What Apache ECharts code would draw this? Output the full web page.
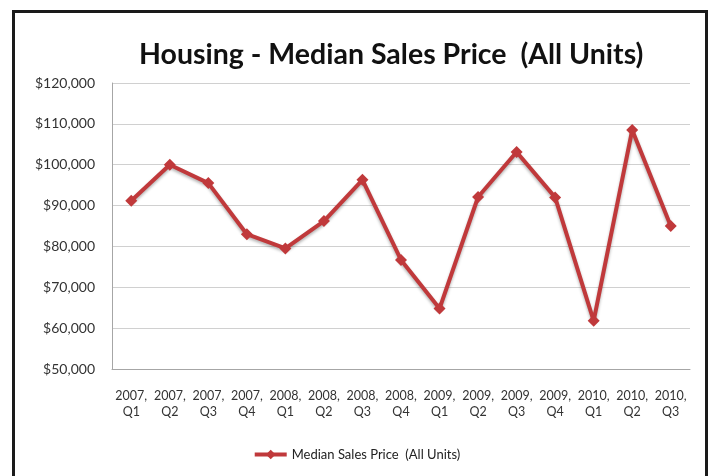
<!DOCTYPE html>
<html>
<head>
<meta charset="utf-8">
<script src="https://cdn.jsdelivr.net/npm/echarts@6/dist/echarts.min.js"></script>
<style>
html, body { margin: 0; padding: 0; background: #fff; }
#chart { width: 713px; height: 476px; }
</style>
</head>
<body>
<div id="chart"></div>
<script>
// quarters on the x axis
var quarters = ['2007,\nQ1', '2007,\nQ2', '2007,\nQ3', '2007,\nQ4',
                '2008,\nQ1', '2008,\nQ2', '2008,\nQ3', '2008,\nQ4',
                '2009,\nQ1', '2009,\nQ2', '2009,\nQ3', '2009,\nQ4',
                '2010,\nQ1', '2010,\nQ2', '2010,\nQ3'];
// median sales price
var medianPrice = [91200, 100000, 95500, 83000, 79500, 86200, 96300, 76700,
                   64800, 92100, 103100, 92000, 61800, 108500, 85000];

var seriesName = 'Median Sales Price  (All Units)';
var red = '#c0393b';

var chart = echarts.init(document.getElementById('chart'));
chart.setOption({
    animation: false,
    title: {
        text: 'Housing - Median Sales Price  (All Units)',
        left: 134,
        top: 35,
        textStyle: {
            fontFamily: 'Lato',
            fontSize: 28.5,
            fontWeight: 'bold',
            color: '#111'
        }
    },
    graphic: [{
        type: 'rect',
        shape: { x: 13.5, y: 11.5, width: 693, height: 480 },
        style: { fill: 'none', stroke: '#1a1a1a', lineWidth: 3 }
    }],
    legend: {
        bottom: 10,
        left: 'center',
        itemWidth: 32,
        itemHeight: 12,
        itemGap: 2,
        lineStyle: { width: 4 },
        data: [seriesName],
        textStyle: { fontFamily: 'Lato', fontSize: 13, color: '#222' }
    },
    grid: { left: 112, right: 23, top: 83, bottom: 107 },
    xAxis: {
        type: 'category',
        data: quarters,
        axisLine: { lineStyle: { color: '#a6a6a6', width: 1 } },
        axisTick: { show: false },
        axisLabel: {
            interval: 0,
            margin: 19,
            fontFamily: 'Lato',
            fontSize: 12.5,
            lineHeight: 16,
            color: '#333'
        }
    },
    yAxis: {
        type: 'value',
        min: 50000,
        max: 120000,
        interval: 10000,
        axisLine: { show: true, lineStyle: { color: '#a6a6a6', width: 1 } },
        axisTick: { show: false },
        splitLine: { lineStyle: { color: '#d0d0d0', width: 1 } },
        axisLabel: {
            margin: 17,
            fontFamily: 'Lato',
            fontSize: 14,
            color: '#333',
            formatter: function (v) {
                return '$' + v.toLocaleString('en-US');
            }
        }
    },
    series: [{
        name: seriesName,
        type: 'line',
        data: medianPrice,
        symbol: 'diamond',
        symbolSize: 12,
        itemStyle: { color: red },
        lineStyle: {
            color: red,
            width: 4,
            shadowColor: 'rgba(0,0,0,0.3)',
            shadowBlur: 3,
            shadowOffsetY: 2
        }
    }]
});
</script>
</body>
</html>
